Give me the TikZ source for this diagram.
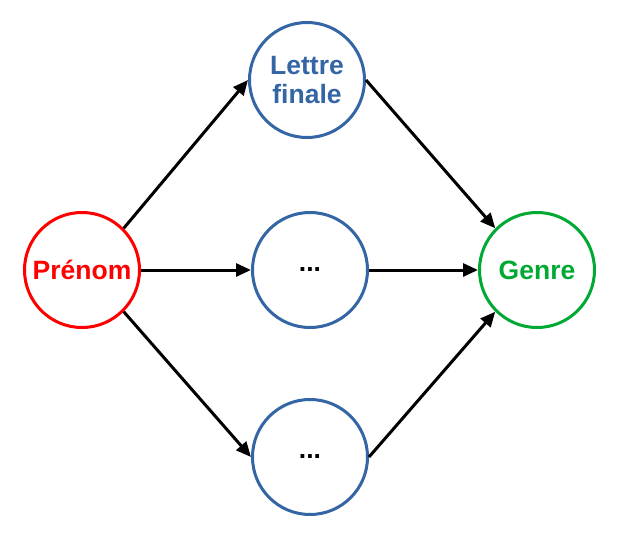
\documentclass[tikz,border=0pt]{standalone}
\usepackage{fontspec}
\setmainfont{Liberation Sans}
\usetikzlibrary{arrows.meta}
\definecolor{cred}{HTML}{FF0000}
\definecolor{cblue}{HTML}{3465A4}
\definecolor{cgreen}{HTML}{00A933}
\begin{document}
\begin{tikzpicture}[x=1pt,y=-1pt,
  circ/.style={circle,draw,line width=3pt,minimum size=115pt,inner sep=0pt,align=center,
    font=\fontsize{26.5}{29}\selectfont\bfseries},
  arr/.style={line width=3pt,-{Triangle[length=15pt,width=13pt]}}]
\useasboundingbox (0,0) rectangle (622,538);
\node[circ,draw=cred,text=cred] (p) at (82,270) {Prénom};
\node[circ,draw=cblue,text=cblue] (l) at (307,80) {Lettre\\finale};
\node[circ,draw=cblue,text=black] (m) at (310,270) {...};
\node[circ,draw=cblue,text=black] (b) at (310,457) {...};
\node[circ,draw=cgreen,text=cgreen] (g) at (537,270) {Genre};
\draw[arr] (p.45) -- (l.180);
\draw[arr] (p.0) -- (m.180);
\draw[arr] (p.-45) -- (b.180);
\draw[arr] (l.0) -- (g.135);
\draw[arr] (m.0) -- (g.180);
\draw[arr] (b.0) -- (g.-135);
\end{tikzpicture}
\end{document}
